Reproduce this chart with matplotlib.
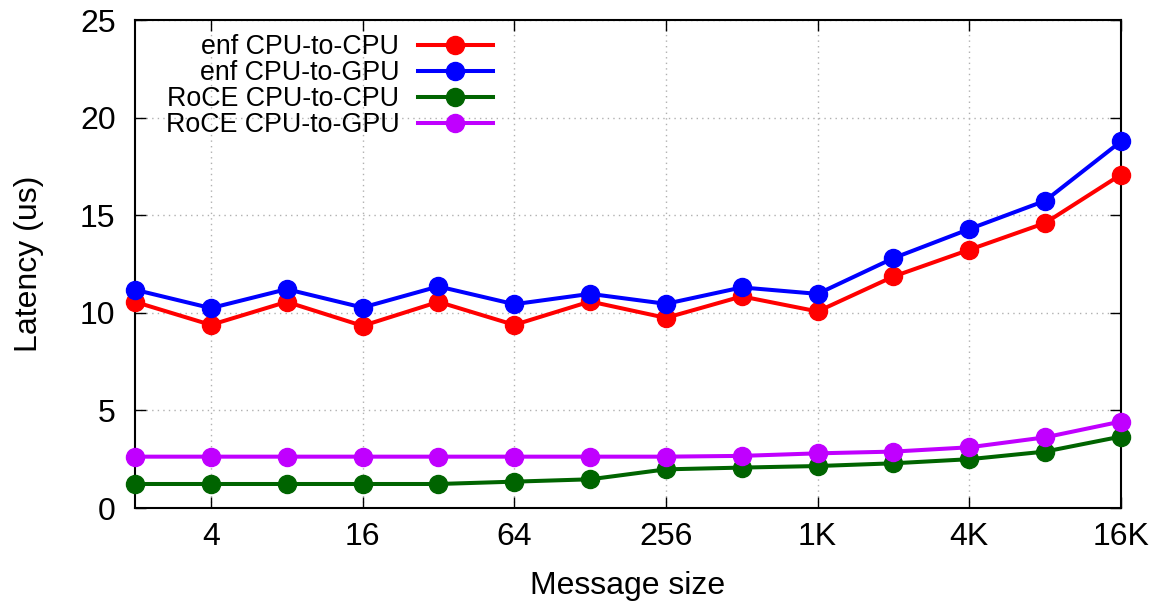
import numpy as np
import matplotlib
matplotlib.use("Agg")
import matplotlib.pyplot as plt

plt.rcParams["font.family"] = ["Liberation Sans", "DejaVu Sans"]

msg_sizes = [2, 4, 8, 16, 32, 64, 128, 256, 512, 1024, 2048, 4096, 8192, 16384]
tick_sizes = [4, 16, 64, 256, 1024, 4096, 16384]
tick_labels = ["4", "16", "64", "256", "1K", "4K", "16K"]

enf_cpu_cpu = [10.56, 9.38, 10.56, 9.33, 10.56, 9.38, 10.58, 9.74, 10.84, 10.07, 11.86, 13.23, 14.6, 17.08]
enf_cpu_gpu = [11.18, 10.24, 11.21, 10.27, 11.35, 10.44, 10.97, 10.46, 11.3, 10.97, 12.8, 14.29, 15.74, 18.78]
roce_cpu_cpu = [1.23, 1.23, 1.23, 1.23, 1.23, 1.35, 1.47, 1.98, 2.07, 2.15, 2.29, 2.5, 2.89, 3.66]
roce_cpu_gpu = [2.63, 2.63, 2.63, 2.63, 2.63, 2.63, 2.63, 2.63, 2.67, 2.8, 2.89, 3.11, 3.62, 4.43]

series = [
    ("enf CPU-to-CPU", enf_cpu_cpu, "#ff0000"),
    ("enf CPU-to-GPU", enf_cpu_gpu, "#0000ff"),
    ("RoCE CPU-to-CPU", roce_cpu_cpu, "#006400"),
    ("RoCE CPU-to-GPU", roce_cpu_gpu, "#c000ff"),
]

W, H = 1157, 610
fig = plt.figure(figsize=(W / 100, H / 100), dpi=100)
# axes box in pixels: x 135..1121, y 20..508 (from top)
ax = fig.add_axes([135 / W, (H - 508) / H, 986 / W, 488 / H])

for label, values, color in series:
    ax.plot(msg_sizes, values, "-o", color=color, lw=2.9, markersize=13,
            label=label, clip_on=False, zorder=3)

ax.set_xscale("log", base=2)
ax.set_xlim(2, 16384)
ax.set_ylim(0, 25)
ax.set_xticks(tick_sizes)
ax.set_xticklabels(tick_labels)
ax.set_yticks([0, 5, 10, 15, 20, 25])
ax.minorticks_off()
ax.tick_params(direction="in", length=8, width=1, top=True, right=True,
               labelsize=23, colors="black")
ax.tick_params(axis="x", pad=10)
ax.tick_params(axis="y", pad=14)
ax.grid(True, linestyle=(0, (1, 3)), color="#b0b0b0", lw=1)
for s in ax.spines.values():
    s.set_linewidth(1.5)

ax.set_xlabel("Message size", fontsize=23)
ax.set_ylabel("Latency (us)", fontsize=23)
ax.xaxis.set_label_coords(0.5, (508 - 571) / 488)
ax.yaxis.set_label_coords((44 - 135) / 986, 0.5)

ax.legend(loc="upper right", bbox_to_anchor=(493 / W, 1 - 34 / H),
          bbox_transform=fig.transFigure, frameon=False, markerfirst=False,
          fontsize=19.3, handlelength=2.8, labelspacing=0.0, borderpad=0,
          borderaxespad=0, handletextpad=0.7)

fig.savefig("out.png", dpi=100)
